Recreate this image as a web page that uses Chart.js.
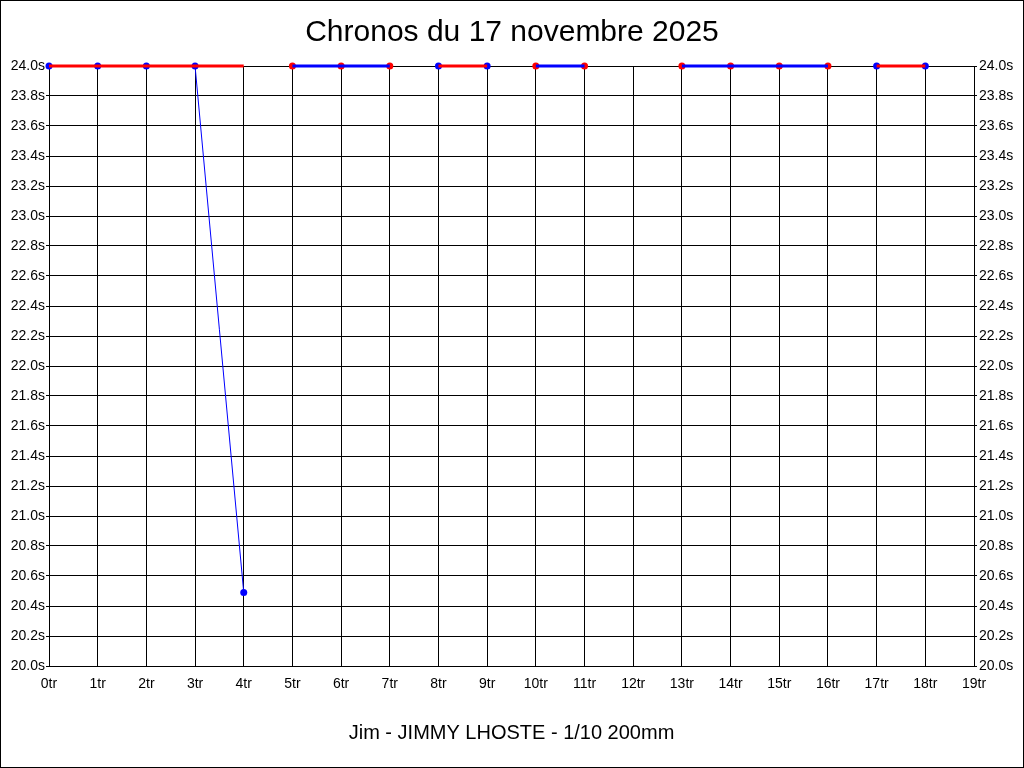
<!DOCTYPE html>
<html>
<head>
<meta charset="utf-8">
<script src="https://cdn.jsdelivr.net/npm/chart.js@4/dist/chart.umd.min.js"></script>
<style>
  body { margin: 0; background: #fff; }
  canvas { display: block; }
</style>
</head>
<body>
<canvas id="chronoChart" width="1024" height="768"></canvas>
<script>
// laps 0..18 (lap 12 has no time)
const laps = [0, 1, 2, 3, 4, 5, 6, 7, 8, 9, 10, 11, 12, 13, 14, 15, 16, 17, 18];
const redLine = [24, 24, 24, 24, 24, null, null, null, 24, 24, null, null, null, null, null, null, null, 24, 24];
const blueLine = [null, null, null, null, null, 24, 24, 24, null, null, 24, 24, null, 24, 24, 24, 24, null, null];
const dropLine = [null, null, null, 24, 20.49, null, null, null, null, null, null, null, null, null, null, null, null, null, null];
const bluePoints = [24, 24, 24, 24, 20.49, null, null, null, 24, 24, null, null, null, null, null, null, null, 24, 24];
const redPoints = [null, null, null, null, null, 24, 24, 24, null, null, 24, 24, null, 24, 24, 24, 24, null, null];

const xMin = 0, xMax = 19;
const yMin = 20, yMax = 24, yStep = 0.2;

const toXY = (arr) => laps.map((x, i) => ({ x: x, y: arr[i] }));

Chart.defaults.font.family = "'Liberation Sans', Arial, sans-serif";
Chart.defaults.color = "#000";

const frame = {
  id: "frame",
  beforeDraw(chart) {
    const c = chart.ctx;
    c.save();
    c.fillStyle = "#fff";
    c.fillRect(0, 0, chart.width, chart.height);
    c.restore();
  },
  afterDraw(chart) {
    const c = chart.ctx;
    c.save();
    c.strokeStyle = "#000";
    c.lineWidth = 1;
    c.strokeRect(0.5, 0.5, chart.width - 1, chart.height - 1);
    c.restore();
  },
};

const tickFont = { size: 14 };

new Chart(document.getElementById("chronoChart").getContext("2d"), {
  type: "line",
  data: {
    datasets: [
      { data: toXY(redLine), borderColor: "#ff0000", borderWidth: 3, pointRadius: 0, spanGaps: false, clip: false, yAxisID: "y" },
      { data: toXY(blueLine), borderColor: "#0000ff", borderWidth: 3, pointRadius: 0, spanGaps: false, clip: false, yAxisID: "y" },
      { data: toXY(dropLine), borderColor: "#0000ff", borderWidth: 1, pointRadius: 0, spanGaps: false, clip: false, yAxisID: "y" },
      { data: toXY(bluePoints), showLine: false, pointRadius: 3.5, pointBackgroundColor: "#0000ff", pointBorderColor: "#0000ff", pointBorderWidth: 0, clip: false, yAxisID: "y" },
      { data: toXY(redPoints), showLine: false, pointRadius: 3.5, pointBackgroundColor: "#ff0000", pointBorderColor: "#ff0000", pointBorderWidth: 0, clip: false, yAxisID: "y" },
    ],
  },
  options: {
    responsive: false,
    animation: false,
    layout: { padding: 0 },
    plugins: {
      legend: { display: false },
      tooltip: { enabled: false },
      title: {
        display: true,
        text: "Chronos du 17 novembre 2025",
        font: { size: 30, weight: "normal" },
        color: "#000",
        padding: { top: 15, bottom: 15 },
      },
    },
    scales: {
      x: {
        type: "linear",
        min: xMin,
        max: xMax,
        ticks: { stepSize: 1, font: tickFont, padding: 10, maxRotation: 0, autoSkip: false, callback: (v) => v + "tr" },
        grid: { color: "#000", lineWidth: 1, drawTicks: false },
        border: { color: "#000" },
        title: {
          display: true,
          text: "Jim - JIMMY LHOSTE - 1/10 200mm",
          font: { size: 20 },
          color: "#000",
          padding: { top: 0, bottom: 23 },
        },
        afterFit: (scale) => { scale.height = 102; },
      },
      y: {
        position: "left",
        min: yMin,
        max: yMax,
        ticks: { stepSize: yStep, font: tickFont, padding: 1, autoSkip: false, callback: (v) => Number(v).toFixed(1) + "s" },
        grid: { color: "#000", lineWidth: 1, tickLength: 3 },
        border: { color: "#000" },
        afterFit: (scale) => { scale.width = 49; },
      },
      y2: {
        position: "right",
        min: yMin,
        max: yMax,
        ticks: { stepSize: yStep, font: tickFont, padding: 2, autoSkip: false, callback: (v) => Number(v).toFixed(1) + "s" },
        grid: { color: "#000", lineWidth: 1, tickLength: 3, drawOnChartArea: false },
        border: { color: "#000" },
        afterFit: (scale) => { scale.width = 50; },
      },
    },
  },
  plugins: [frame],
});
</script>
</body>
</html>
